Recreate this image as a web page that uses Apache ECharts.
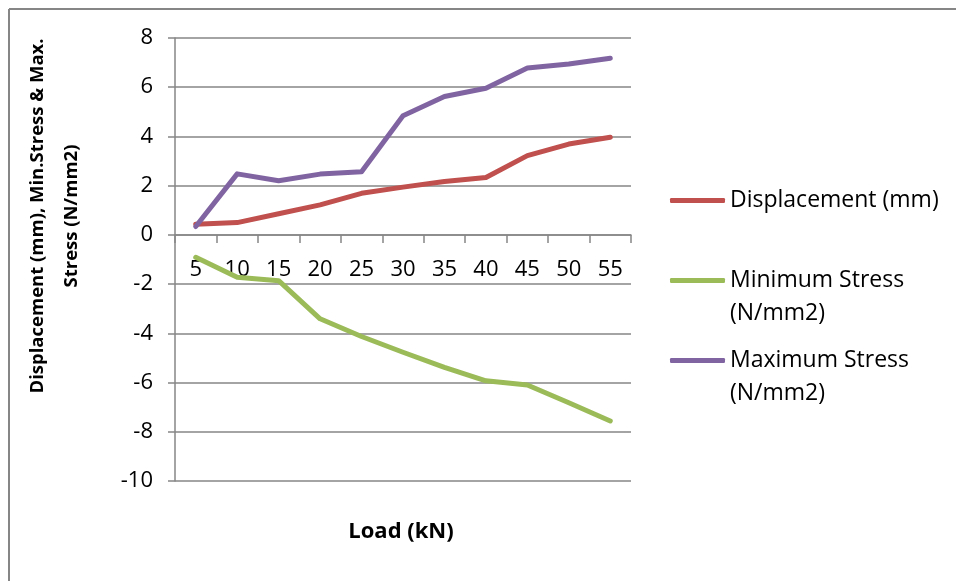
<!DOCTYPE html>
<html>
<head>
<meta charset="utf-8">
<script src="https://cdn.jsdelivr.net/npm/echarts@6/dist/echarts.min.js"></script>
<style>
html,body{margin:0;padding:0;background:#fff;}
#chart{width:956px;height:581px;}
</style>
</head>
<body>
<div id="chart"></div>
<script>
var categories = ['5','10','15','20','25','30','35','40','45','50','55'];
var displacement = [0.43, 0.5, 0.86, 1.22, 1.69, 1.94, 2.17, 2.33, 3.22, 3.69, 3.97];
var minStress = [-0.91, -1.72, -1.86, -3.41, -4.13, -4.77, -5.38, -5.93, -6.1, -6.82, -7.56];
var maxStress = [0.34, 2.48, 2.2, 2.47, 2.57, 4.84, 5.62, 5.96, 6.78, 6.94, 7.18];
var seriesNames = ['Displacement (mm)', 'Minimum Stress\n(N/mm2)', 'Maximum Stress\n(N/mm2)'];
var colors = ['#C0504D', '#9BBB59', '#8064A2'];
var yMin = -10, yMax = 8, yStep = 2;

var FONT = 'Open Sans';
var GRAY = '#868686';
var GRID = {left: 175, right: 325, top: 38, bottom: 100};
var H = 581, W = 956;
var plotH = H - GRID.top - GRID.bottom;
var zeroOffset = plotH * (0 - yMin) / (yMax - yMin);

var chart = echarts.init(document.getElementById('chart'), null, {renderer: 'canvas'});

function legendFor(i, top, multi) {
  return {
    orient: 'vertical',
    left: 670,
    top: top,
    padding: 0,
    itemWidth: 55,
    itemHeight: 5,
    icon: 'roundRect',
    data: [seriesNames[i]],
    selectedMode: false,
    formatter: function (n) { return multi ? '\n' + n : n; },
    textStyle: {
      fontFamily: FONT,
      fontSize: 23,
      color: '#000',
      lineHeight: 33
    }
  };
}

var option = {
  animation: false,
  color: colors,
  grid: {left: GRID.left, right: GRID.right, top: GRID.top, bottom: GRID.bottom, containLabel: false},
  legend: [
    legendFor(0, 184, false),
    legendFor(1, 231, true),
    legendFor(2, 311, true)
  ],
  xAxis: {
    type: 'category',
    data: categories,
    boundaryGap: true,
    offset: -zeroOffset,
    axisLine: {onZero: false, lineStyle: {color: GRAY, width: 1.5}},
    axisTick: {show: true, length: 8, alignWithLabel: false, interval: 0, lineStyle: {color: GRAY, width: 1.5}},
    axisLabel: {interval: 0, margin: 24, fontFamily: FONT, fontSize: 22, color: '#000'},
    splitLine: {show: false}
  },
  yAxis: {
    type: 'value',
    min: yMin,
    max: yMax,
    interval: yStep,
    axisLine: {show: true, lineStyle: {color: GRAY, width: 1.5}},
    axisTick: {show: true, length: 7, lineStyle: {color: GRAY, width: 1.5}},
    axisLabel: {margin: 22, fontFamily: FONT, fontSize: 22, color: '#000'},
    splitLine: {show: true, lineStyle: {color: GRAY, width: 1.5}}
  },
  graphic: [
    {type: 'line', shape: {x1: 9, y1: 9, x2: 9, y2: H}, style: {stroke: GRAY, lineWidth: 2}, silent: true},
    {type: 'line', shape: {x1: 9, y1: 9, x2: W, y2: 9}, style: {stroke: GRAY, lineWidth: 2}, silent: true},
    {
      type: 'text', x: 55, y: 216, rotation: Math.PI / 2,
      style: {
        text: 'Displacement (mm), Min.Stress & Max.\nStress (N/mm2)',
        fontFamily: FONT, fontSize: 18.5, fontWeight: 'bold', fill: '#000',
        align: 'center', verticalAlign: 'middle', lineHeight: 34
      }
    },
    {
      type: 'text', x: 401, y: 532,
      style: {
        text: 'Load (kN)',
        fontFamily: FONT, fontSize: 22, fontWeight: 'bold', fill: '#000',
        align: 'center', verticalAlign: 'middle'
      }
    }
  ],
  series: [
    {name: seriesNames[0], type: 'line', data: displacement, symbol: 'none', lineStyle: {width: 5, cap: 'round', join: 'round'}},
    {name: seriesNames[1], type: 'line', data: minStress, symbol: 'none', lineStyle: {width: 5, cap: 'round', join: 'round'}},
    {name: seriesNames[2], type: 'line', data: maxStress, symbol: 'none', lineStyle: {width: 5, cap: 'round', join: 'round'}}
  ]
};
chart.setOption(option);
</script>
</body>
</html>
